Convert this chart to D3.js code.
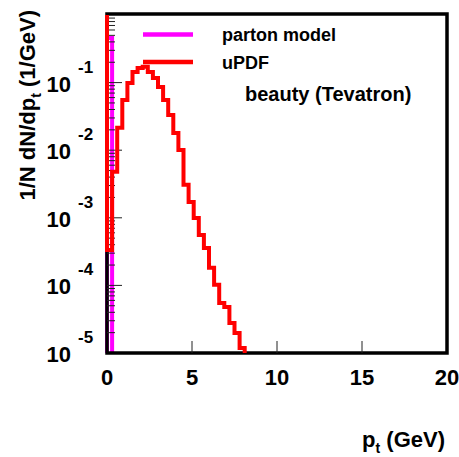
<!DOCTYPE html>
<html>
<head>
<meta charset="utf-8">
<script src="https://cdn.jsdelivr.net/npm/d3@7"></script>
<style>
  html, body { margin: 0; padding: 0; background: #fff; }
  svg { display: block; }
  text { font-family: "Liberation Sans", Arial, Helvetica, sans-serif; font-weight: bold; fill: #000; }
</style>
</head>
<body>
<svg id="chart" width="459" height="457"></svg>
<script>
// Transverse momentum spectra of beauty quarks, bins of 0.3 GeV starting at p_t = 0
const binWidth = 0.3;
const partonModel = [0.458];   // collinear parton model: everything in the first bin
const uPDF = [3.35e-4, 4.78e-3, 0.0214, 0.0555, 0.099, 0.144, 0.165, 0.171, 0.144,
              0.117, 0.0864, 0.0555, 0.0333, 0.018, 0.0101, 3.07e-3, 1.72e-3, 9.97e-4,
              5.59e-4, 3.59e-4, 1.82e-4, 1.02e-4, 5.5e-5, 4.8e-5, 2.79e-5, 1.98e-5, 1.19e-5];
const xTicks = [0, 5, 10, 15, 20];
const yDecades = [-1, -2, -3, -4, -5];
const legendItems = [
  { label: "parton model", color: "#ff00ff" },
  { label: "uPDF", color: "#ff0000" }
];
const caption = "beauty (Tevatron)";

(function () {
const svg = d3.select("#chart");
const frameL = 107, frameR = 447, frameT = 15, frameB = 353;

const x = d3.scaleLinear().domain([0, 20]).range([frameL, frameR]);
const y = d3.scaleLog().domain([1e-5, 1]).range([frameB, frameT]);

// Step outline of a histogram; the drawing stops where a bin falls below the frame
function stepPoints(values, startAtTop) {
  const pts = [];
  const yMin = y.domain()[0], yMax = y.domain()[1];
  pts.push([x(0), startAtTop ? y(yMax) : y(yMin)]);
  values.forEach((v, i) => {
    const lo = i * binWidth, hi = (i + 1) * binWidth;
    const vv = Math.min(Math.max(v, yMin), yMax);
    pts.push([x(lo), y(vv)]);
    pts.push([x(hi), y(vv)]);
  });
  pts.push([x(values.length * binWidth), y(yMin)]);
  return pts;
}
const line = d3.line();

// parton model histogram (beneath the frame)
svg.append("path")
  .attr("d", line(stepPoints(partonModel, false)))
  .attr("fill", "none")
  .attr("stroke", "#ff00ff")
  .attr("stroke-width", 4)
  .attr("stroke-linejoin", "miter");

// frame
svg.append("rect")
  .attr("x", frameL).attr("y", frameT - 1)
  .attr("width", frameR - frameL).attr("height", frameB - frameT + 1)
  .attr("fill", "none").attr("stroke", "#000").attr("stroke-width", 3.5);

// y ticks: decades long, intermediate ones short
const yTickVals = y.ticks(10);
svg.append("g").selectAll("line")
  .data(yTickVals.filter(v => v < 1 && v > 1e-5))
  .join("line")
  .attr("x1", frameL)
  .attr("x2", d => {
    const m = d / Math.pow(10, Math.floor(Math.log10(d) + 1e-9));
    return Math.abs(m - 1) < 1e-6 ? frameL + 15 : frameL + 8;
  })
  .attr("y1", d => y(d)).attr("y2", d => y(d))
  .attr("stroke", "#222").attr("stroke-width", 1);

// x ticks
svg.append("g").selectAll("line")
  .data(xTicks.filter(v => v > 0 && v < 20))
  .join("line")
  .attr("x1", d => x(d)).attr("x2", d => x(d))
  .attr("y1", frameB).attr("y2", frameB - 12)
  .attr("stroke", "#222").attr("stroke-width", 1);

// uPDF histogram on top
svg.append("path")
  .attr("d", line(stepPoints(uPDF, true)))
  .attr("fill", "none")
  .attr("stroke", "#ff0000")
  .attr("stroke-width", 4)
  .attr("stroke-linejoin", "miter");

// x tick labels
svg.append("g").selectAll("text")
  .data(xTicks)
  .join("text")
  .attr("x", d => x(d)).attr("y", 385)
  .attr("text-anchor", "middle")
  .attr("font-size", 22)
  .text(d => d);

// y tick labels as 10 with a raised exponent
const yLab = svg.append("g").selectAll("g")
  .data(yDecades)
  .join("g");
yLab.append("text")
  .attr("x", 71).attr("y", d => y(Math.pow(10, d)) + 9)
  .attr("text-anchor", "end")
  .attr("font-size", 22)
  .text("10");
yLab.append("text")
  .attr("x", 78).attr("y", d => y(Math.pow(10, d)) - 10)
  .attr("text-anchor", "start")
  .attr("font-size", 17)
  .text(d => "-" + Math.abs(d));

// axis titles
const yTitle = svg.append("text")
  .attr("transform", "translate(35,10) rotate(-90)")
  .attr("text-anchor", "end")
  .attr("font-size", 22);
yTitle.append("tspan").text("1/N dN/dp");
yTitle.append("tspan").attr("font-size", 14).attr("dy", 6).text("t");
yTitle.append("tspan").attr("dy", -6).text(" (1/GeV)");

const xTitle = svg.append("text")
  .attr("x", 445).attr("y", 447)
  .attr("text-anchor", "end")
  .attr("font-size", 22);
xTitle.append("tspan").text("p");
xTitle.append("tspan").attr("font-size", 14).attr("dy", 6).text("t");
xTitle.append("tspan").attr("dy", -6).text(" (GeV)");

// legend
const leg = svg.append("g").selectAll("g")
  .data(legendItems)
  .join("g")
  .attr("transform", (d, i) => `translate(0,${34.5 + i * 27.5})`);
leg.append("line")
  .attr("x1", 143).attr("x2", 193)
  .attr("y1", 0).attr("y2", 0)
  .attr("stroke", d => d.color).attr("stroke-width", 4.5);
leg.append("text")
  .attr("x", 222).attr("y", 6.5)
  .attr("font-size", 18)
  .text(d => d.label);

svg.append("text")
  .attr("x", 245).attr("y", 101)
  .attr("font-size", 20)
  .text(caption);
})();
</script>
</body>
</html>
